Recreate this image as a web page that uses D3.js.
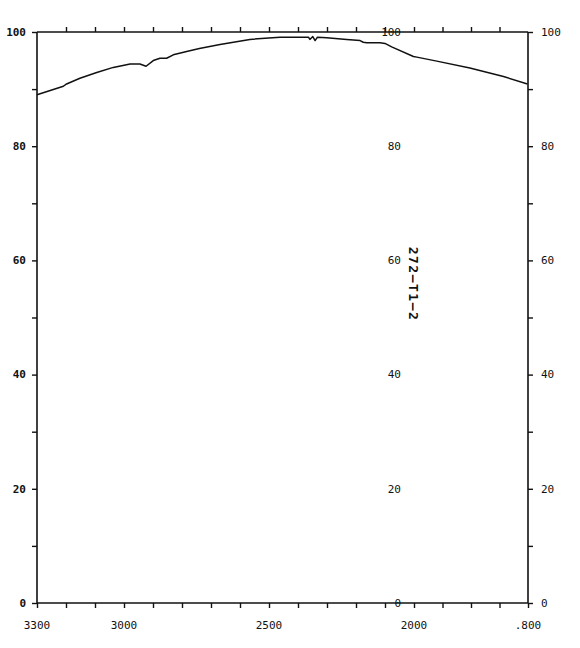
<!DOCTYPE html>
<html>
<head>
<meta charset="utf-8">
<script src="https://cdn.jsdelivr.net/npm/d3@7"></script>
<style>
  html, body { margin: 0; padding: 0; background: #fff; }
  svg { display: block; }
  text { font-family: "DejaVu Sans Mono", "Liberation Mono", monospace; fill: #111; }
</style>
</head>
<body>
<svg id="chart" width="580" height="648"></svg>
<script>
// ---- data ----
const wavenumbers = [3300, 3209, 3198, 3152, 3094, 3037, 2979, 2945, 2924, 2899, 2876, 2853, 2830, 2784, 2740, 2700, 2669, 2566, 2462, 2382, 2364, 2359, 2349, 2341, 2333, 2301, 2232, 2186, 2175, 2163, 2117, 2100, 2077, 2002, 1995, 1960, 1902, 1843, 1801];
const transmittance = [89.0, 90.5, 90.9, 91.9, 92.9, 93.8, 94.4, 94.4, 94.0, 95.0, 95.4, 95.4, 96.0, 96.6, 97.1, 97.5, 97.8, 98.7, 99.1, 99.1, 99.1, 98.7, 99.2, 98.5, 99.1, 99.0, 98.7, 98.5, 98.2, 98.1, 98.1, 98.0, 97.4, 95.7, 95.6, 94.9, 93.7, 92.2, 90.9];
const xTickLabels = ["3300", "3000", "2500", "2000", ".800"];
const xTickLabelValues = [3300, 3000, 2500, 2000, 1800];
const yTickLabels = ["0", "20", "40", "60", "80", "100"];
const sampleLabel = "272\u2014T1\u20142";

// ---- layout ----
const svg = d3.select("#chart");
const mLeft = 37, mRight = 528, mTop = 32, mBottom = 603;

const x = d3.scaleLinear().domain([3300, 2000, 1800]).range([mLeft, 414, mRight]);
const y = d3.scaleLinear().domain([0, 100]).range([mBottom, mTop]);

const majorX = d3.range(3300, 1999, -100).concat([1950, 1900, 1850, 1800]);
const yTicks = d3.range(0, 101, 10);

// frame lines
const g = svg.append("g");
[[mLeft, mTop, mRight, mTop], [mLeft, mBottom, mRight, mBottom],
 [mLeft, mTop, mLeft, mBottom], [mRight, mTop, mRight, mBottom]].forEach(l => {
  g.append("line").attr("x1", l[0]).attr("y1", l[1]).attr("x2", l[2]).attr("y2", l[3])
    .attr("stroke", "#111").attr("stroke-width", 1.6);
});

function styleAxis(sel) {
  sel.select(".domain").remove();
  sel.selectAll(".tick line").attr("stroke", "#111").attr("stroke-width", 1.4);
}

// bottom axis ticks (downward)
svg.append("g").attr("transform", `translate(0,${mBottom})`)
  .call(d3.axisBottom(x).tickValues(majorX).tickSize(5).tickFormat("")).call(styleAxis);

// top axis ticks (upward)
svg.append("g").attr("transform", `translate(0,${mTop})`)
  .call(d3.axisTop(x).tickValues(majorX.slice(1, -1)).tickSize(5).tickFormat("")).call(styleAxis);

// left y ticks
svg.append("g").attr("transform", `translate(${mLeft},0)`)
  .call(d3.axisLeft(y).tickValues(yTicks).tickSize(5).tickFormat("")).call(styleAxis);

// right y ticks
svg.append("g").attr("transform", `translate(${mRight},0)`)
  .call(d3.axisRight(y).tickValues(yTicks).tickSize(5).tickFormat("")).call(styleAxis);

// y labels: left, middle, right
const yLabelVals = yTickLabels.map(Number);
svg.append("g").selectAll("text").data(yLabelVals).join("text")
  .attr("x", 26).attr("y", d => y(d)).attr("dy", "0.35em")
  .attr("text-anchor", "end").attr("font-size", 11).attr("font-weight", "bold")
  .text((d, i) => yTickLabels[i]);
svg.append("g").selectAll("text").data(yLabelVals).join("text")
  .attr("x", 401).attr("y", d => y(d)).attr("dy", "0.35em")
  .attr("text-anchor", "end").attr("font-size", 11)
  .text((d, i) => yTickLabels[i]);
svg.append("g").selectAll("text").data(yLabelVals).join("text")
  .attr("x", 541).attr("y", d => y(d)).attr("dy", "0.35em")
  .attr("text-anchor", "start").attr("font-size", 11)
  .text((d, i) => yTickLabels[i]);

// x labels
svg.append("g").selectAll("text").data(xTickLabelValues).join("text")
  .attr("x", d => x(d)).attr("y", 625).attr("dy", "0.35em")
  .attr("text-anchor", "middle").attr("font-size", 11)
  .text((d, i) => xTickLabels[i]);

// rotated sample label
svg.append("text")
  .attr("transform", `translate(409,284) rotate(90)`)
  .attr("text-anchor", "middle").attr("font-size", 13).attr("font-weight", "bold")
  .attr("letter-spacing", 1.5)
  .text(sampleLabel);

// spectrum line
const pts = wavenumbers.map((w, i) => [w, transmittance[i]]);
svg.append("path").datum(pts)
  .attr("fill", "none").attr("stroke", "#111").attr("stroke-width", 1.5)
  .attr("stroke-linejoin", "round")
  .attr("d", d3.line().x(d => x(d[0])).y(d => y(d[1])));
</script>
</body>
</html>
